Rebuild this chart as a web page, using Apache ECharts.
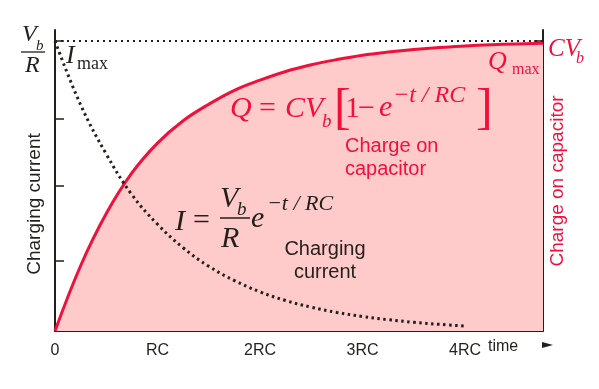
<!DOCTYPE html>
<html>
<head>
<meta charset="utf-8">
<script src="https://cdn.jsdelivr.net/npm/echarts@6/dist/echarts.min.js"></script>
<style>
  html, body { margin: 0; padding: 0; background: #ffffff; }
  #chart { width: 599px; height: 389px; }
</style>
</head>
<body>
<div id="chart"></div>
<script>
// Time in units of RC
var timeRC = [0, 0.25, 0.5, 0.75, 1.0, 1.25, 1.5, 1.75, 2.0, 2.25, 2.5, 2.75, 3.0, 3.25, 3.5, 3.75, 4.0, 4.25, 4.5, 4.76];
// Charge on capacitor, as a fraction of Qmax
var chargeFrac = [0, 0.225, 0.405, 0.545, 0.648, 0.725, 0.782, 0.83, 0.865, 0.895, 0.918, 0.936, 0.951, 0.962, 0.971, 0.978, 0.983, 0.987, 0.990, 0.992];
// Charging current, as a fraction of Imax (drawn up to 4RC)
var currentTime = [0, 0.25, 0.5, 0.75, 1.0, 1.25, 1.5, 1.75, 2.0, 2.25, 2.5, 2.75, 3.0, 3.25, 3.5, 3.75, 4.0];
var currentFrac = [1, 0.78, 0.61, 0.47, 0.368, 0.287, 0.223, 0.174, 0.135, 0.105, 0.082, 0.064, 0.05, 0.039, 0.03, 0.023, 0.017];
// Axis ticks and labels
var xLabelValues = [0, 1, 2, 3, 4];
var xLabelTexts = ['0', 'RC', '2RC', '3RC', '4RC'];
var xTickValues = [2, 3, 4];
var yTickValues = [0.241, 0.5, 0.731, 1];

var RED = '#f2103a';
var PINK = '#ffcaca';
var INK = '#231f1a';
var SERIF = '"Liberation Serif", "DejaVu Serif", serif';
var SANS = '"Liberation Sans", Arial, sans-serif';

function pairs(xs, ys) {
  return xs.map(function (x, i) { return [x, ys[i]]; });
}

function txt(x, y, text, font, fill, extra) {
  var st = { text: text, font: font, fill: fill, align: 'left', verticalAlign: 'middle' };
  if (extra) { for (var k in extra) st[k] = extra[k]; }
  return { type: 'text', x: x, y: y, z: 50, silent: true, style: st };
}

var it = function (s) { return 'italic ' + s + 'px ' + SERIF; };
var rm = function (s) { return s + 'px ' + SERIF; };

var graphics = [
  // Vb / R at the top of the current axis
  txt(22, 35, 'V', it(24), INK),
  txt(36, 46, 'b', it(15), INK),
  { type: 'line', z: 50, silent: true, shape: { x1: 21, y1: 52, x2: 45, y2: 52 }, style: { stroke: INK, lineWidth: 1.3 } },
  txt(25, 66, 'R', it(24), INK),
  // Imax
  txt(66, 56, 'I', it(26), INK),
  txt(77, 64, 'max', rm(18), INK),
  // CVb at the top of the charge axis
  txt(548, 49, 'CV', it(25), RED),
  txt(576, 59, 'b', it(16), RED),
  // Qmax
  txt(488, 62, 'Q', it(26), RED),
  txt(512, 70, 'max', rm(16), RED),
  // Q = CVb [1 - e^(-t/RC)]
  txt(230, 109, 'Q', it(30), RED),
  txt(259, 109, '=', rm(30), RED),
  txt(285, 109, 'CV', it(30), RED),
  txt(322, 122, 'b', it(19), RED),
  txt(334, 110, '[', rm(50), RED),
  txt(345, 109, '1', rm(30), RED),
  txt(358, 109, '\u2212', rm(30), RED),
  txt(379, 108, 'e', it(30), RED),
  txt(393, 96, '\u2212t / RC', it(24), RED),
  txt(476, 110, ']', rm(50), RED),
  // I = (Vb / R) e^(-t/RC)
  txt(175, 222, 'I', it(30), INK),
  txt(193, 221, '=', rm(30), INK),
  txt(220, 199, 'V', it(30), INK),
  txt(237, 210, 'b', it(19), INK),
  { type: 'line', z: 50, silent: true, shape: { x1: 220, y1: 218, x2: 250, y2: 218 }, style: { stroke: INK, lineWidth: 1.5 } },
  txt(221, 239, 'R', it(30), INK),
  txt(251, 219, 'e', it(30), INK),
  txt(267, 204, '\u2212t / RC', it(22), INK),
  // Curve captions
  txt(325, 261, 'Charging\ncurrent', '20px ' + SANS, INK, { align: 'center', lineHeight: 23 }),
  txt(345, 158, 'Charge on\ncapacitor', '20px ' + SANS, RED, { lineHeight: 23 }),
  // Axis titles
  { type: 'text', x: 35, y: 204, rotation: Math.PI / 2, z: 50, silent: true,
    style: { text: 'Charging current', font: '19px ' + SANS, fill: INK, align: 'center', verticalAlign: 'middle' } },
  { type: 'text', x: 558, y: 181, rotation: Math.PI / 2, z: 50, silent: true,
    style: { text: 'Charge on capacitor', font: '19px ' + SANS, fill: RED, align: 'center', verticalAlign: 'middle' } },
  // time axis caption and arrow head
  txt(488, 347, 'time', '16px ' + SANS, INK),
  { type: 'polygon', z: 50, silent: true, shape: { points: [[542, 342], [553, 345], [542, 348]] }, style: { fill: INK } }
];

var axisLine = { show: true, lineStyle: { color: INK, width: 2 } };

var chart = echarts.init(document.getElementById('chart'), null, { renderer: 'canvas' });
chart.setOption({
  animation: false,
  backgroundColor: '#ffffff',
  grid: { left: 55, right: 56, top: 30, bottom: 58 },
  xAxis: {
    type: 'value', min: 0, max: 4.76,
    axisLine: axisLine,
    axisTick: { show: true, inside: true, length: 9, customValues: xTickValues, lineStyle: { color: INK, width: 1.5 } },
    axisLabel: {
      show: true, customValues: xLabelValues, margin: 12,
      fontSize: 16, fontFamily: SANS, color: INK,
      formatter: function (v) { return xLabelTexts[xLabelValues.indexOf(Math.round(v))]; }
    },
    splitLine: { show: false }
  },
  yAxis: [
    {
      type: 'value', min: 0, max: 1.038, position: 'left',
      axisLine: axisLine,
      axisTick: { show: true, inside: true, length: 9, customValues: yTickValues, lineStyle: { color: INK, width: 1.5 } },
      axisLabel: { show: false }, splitLine: { show: false }
    },
    {
      type: 'value', min: 0, max: 1.038, position: 'right',
      axisLine: axisLine,
      axisTick: { show: true, inside: true, length: 9, customValues: yTickValues, lineStyle: { color: INK, width: 1.5 } },
      axisLabel: { show: false }, splitLine: { show: false }
    }
  ],
  series: [
    {
      name: 'Charge', type: 'line', yAxisIndex: 1, smooth: 0.4, showSymbol: false, z: 2,
      data: pairs(timeRC, chargeFrac),
      lineStyle: { color: RED, width: 3 },
      areaStyle: { color: PINK, opacity: 1 }
    },
    {
      name: 'Current', type: 'line', yAxisIndex: 0, smooth: 0.4, showSymbol: false, z: 3,
      data: pairs(currentTime, currentFrac),
      lineStyle: { color: INK, width: 3, type: [2.5, 3.5], cap: 'butt' },
      markLine: {
        silent: true, symbol: 'none', label: { show: false },
        lineStyle: { color: INK, width: 2, type: [2, 4] },
        data: [{ yAxis: 1 }]
      }
    }
  ],
  graphic: graphics
});
</script>
</body>
</html>
